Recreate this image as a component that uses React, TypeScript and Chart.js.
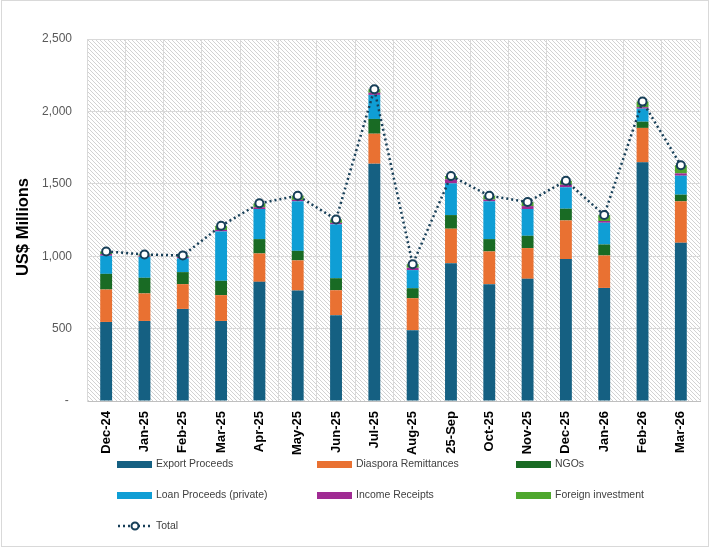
import React, { useEffect, useRef } from 'react';
import { Chart, registerables } from 'chart.js';
Chart.register(...registerables);

const categories = ['Dec-24', 'Jan-25', 'Feb-25', 'Mar-25', 'Apr-25', 'May-25', 'Jun-25', 'Jul-25', 'Aug-25', '25-Sep', 'Oct-25', 'Nov-25', 'Dec-25', 'Jan-26', 'Feb-26', 'Mar-26'];
const exportProceeds = [546, 553, 636, 553, 823, 763, 593, 1639, 489, 952, 807, 844, 980, 781, 1648, 1093];
const diasporaRemittances = [224, 190, 171, 178, 196, 208, 172, 207, 221, 238, 226, 212, 267, 224, 238, 286];
const ngos = [108, 108, 83, 99, 99, 66, 83, 102, 69, 94, 85, 85, 81, 76, 43, 46];
const loanProceeds = [125, 145, 95, 341, 208, 342, 372, 166, 125, 219, 261, 185, 148, 150, 90, 131];
const incomeReceipts = [12, 8, 10, 10, 12, 10, 10, 15, 16, 28, 12, 20, 18, 12, 10, 16];
const foreignInvestment = [18, 8, 10, 29, 27, 29, 24, 24, 25, 23, 27, 28, 27, 41, 39, 56];
const total = [1033, 1012, 1005, 1210, 1365, 1418, 1254, 2153, 945, 1554, 1418, 1374, 1521, 1284, 2068, 1628];

const yTicks = [0, 500, 1000, 1500, 2000, 2500];

const barSeries = [
  { label: 'Export Proceeds', data: exportProceeds, color: '#156082' },
  { label: 'Diaspora Remittances', data: diasporaRemittances, color: '#E97132' },
  { label: 'NGOs', data: ngos, color: '#196B24' },
  { label: 'Loan Proceeds (private)', data: loanProceeds, color: '#0F9ED5' },
  { label: 'Income Receipts', data: incomeReceipts, color: '#A02B93' },
  { label: 'Foreign investment', data: foreignInvestment, color: '#4EA72E' },
];

const LINE_COLOR = '#173F58';
const FONT = "'Liberation Sans', Arial, sans-serif";

export default function App() {
  const ref = useRef<HTMLCanvasElement>(null);

  useEffect(() => {
    document.body.style.margin = '0';
    const canvas = ref.current!;
    const ctx = canvas.getContext('2d')!;
    const tile = document.createElement('canvas');
    tile.width = 4;
    tile.height = 4;
    const t = tile.getContext('2d')!;
    t.fillStyle = '#ffffff';
    t.fillRect(0, 0, 4, 4);
    t.strokeStyle = '#d2d2d2';
    t.lineWidth = 1;
    t.beginPath();
    t.moveTo(-1, -1);
    t.lineTo(5, 5);
    t.stroke();
    const pattern = ctx.createPattern(tile, 'repeat');

    const decor = {
      id: 'decor',
      beforeDraw(chart: any) {
        const c = chart.ctx;
        const a = chart.chartArea;
        c.save();
        c.fillStyle = '#ffffff';
        c.fillRect(0, 0, chart.width, chart.height);
        c.fillStyle = pattern as any;
        c.fillRect(a.left, a.top, a.right - a.left, a.bottom - a.top);
        c.restore();
      },
      afterDraw(chart: any) {
        const c = chart.ctx;
        c.save();
        c.translate(23, 227);
        c.rotate(-Math.PI / 2);
        c.font = `bold 16.5px ${FONT}`;
        c.fillStyle = '#000000';
        c.textAlign = 'center';
        c.textBaseline = 'middle';
        c.fillText('US$ Millions', 0, 0);
        c.restore();
        c.save();
        c.strokeStyle = '#d9d9d9';
        c.lineWidth = 1;
        c.strokeRect(1.5, 0.5, chart.width - 3, chart.height - 1);
        c.restore();
      },
    };

    const datasets: any[] = [
      {
        type: 'line',
        label: 'Total',
        data: total,
        stack: 'total',
        order: 0,
        borderColor: LINE_COLOR,
        borderWidth: 2.5,
        borderDash: [2, 3],
        pointRadius: 4,
        pointBorderWidth: 2,
        pointBackgroundColor: '#ffffff',
        pointBorderColor: LINE_COLOR,
        fill: false,
        tension: 0,
      },
      ...barSeries.map((s) => ({
        type: 'bar',
        label: s.label,
        data: s.data,
        backgroundColor: s.color,
        borderWidth: 0,
        stack: 'bars',
        order: 1,
        barPercentage: 0.31,
        categoryPercentage: 1,
      })),
    ];

    const chart = new Chart(ctx, {
      type: 'bar',
      data: { labels: categories, datasets },
      options: {
        responsive: false,
        animation: false,
        devicePixelRatio: 1,
        layout: { padding: { top: 39, right: 10, bottom: 90, left: 0 } },
        plugins: { legend: { display: false }, tooltip: { enabled: false } },
        scales: {
          x: {
            stacked: true,
            grid: { color: '#d9d9d9', offset: true, drawTicks: false },
            border: { color: '#bfbfbf' },
            ticks: {
              minRotation: 90,
              maxRotation: 90,
              padding: 10,
              color: '#000000',
              font: { family: FONT, size: 13, weight: 'bold' },
            },
            afterFit: (s: any) => {
              s.height = 56;
            },
          },
          y: {
            stacked: true,
            min: 0,
            max: 2500,
            afterBuildTicks: (s: any) => {
              s.ticks = yTicks.map((v) => ({ value: v }));
            },
            ticks: {
              padding: 15,
              color: '#595959',
              font: { family: FONT, size: 12 },
              callback: (v: any) => (Number(v) === 0 ? '- ' : Number(v).toLocaleString('en-US')),
            },
            grid: { color: '#d9d9d9', drawTicks: false },
            border: { color: '#d9d9d9' },
            afterFit: (s: any) => {
              s.width = 87;
            },
          },
        },
      },
      plugins: [decor],
    } as any);
    return () => chart.destroy();
  }, []);

  const legendRows = [
    [barSeries[0], barSeries[1], barSeries[2]],
    [barSeries[3], barSeries[4], barSeries[5]],
  ];
  const colX = [117, 317, 516];
  const rowY = [464, 495];
  const textStyle: React.CSSProperties = {
    position: 'absolute',
    fontFamily: FONT,
    fontSize: 11,
    color: '#404040',
    whiteSpace: 'nowrap',
    lineHeight: '14px',
    transform: 'scaleX(0.95)',
    transformOrigin: 'left center',
  };

  return (
    <div style={{ position: 'relative', width: 710, height: 547, background: '#fff' }}>
      <canvas ref={ref} width={710} height={547} style={{ width: 710, height: 547, display: 'block' }} />
      {legendRows.map((row, ri) =>
        row.map((s, ci) => (
          <React.Fragment key={s.label}>
            <div
              style={{
                position: 'absolute',
                left: colX[ci],
                top: rowY[ri] - 3.5,
                width: 35,
                height: 7,
                background: s.color,
              }}
            />
            <div style={{ ...textStyle, left: colX[ci] + 39, top: rowY[ri] - 8 }}>{s.label}</div>
          </React.Fragment>
        ))
      )}
      <svg style={{ position: 'absolute', left: 117, top: 520 }} width={36} height={12}>
        <line x1={1} y1={6} x2={36} y2={6} stroke={LINE_COLOR} strokeWidth={2.5} strokeDasharray="2 3" />
        <circle cx={18} cy={6} r={3.5} fill="#fff" stroke={LINE_COLOR} strokeWidth={2} />
      </svg>
      <div style={{ ...textStyle, left: 156, top: 518 }}>Total</div>
    </div>
  );
}
